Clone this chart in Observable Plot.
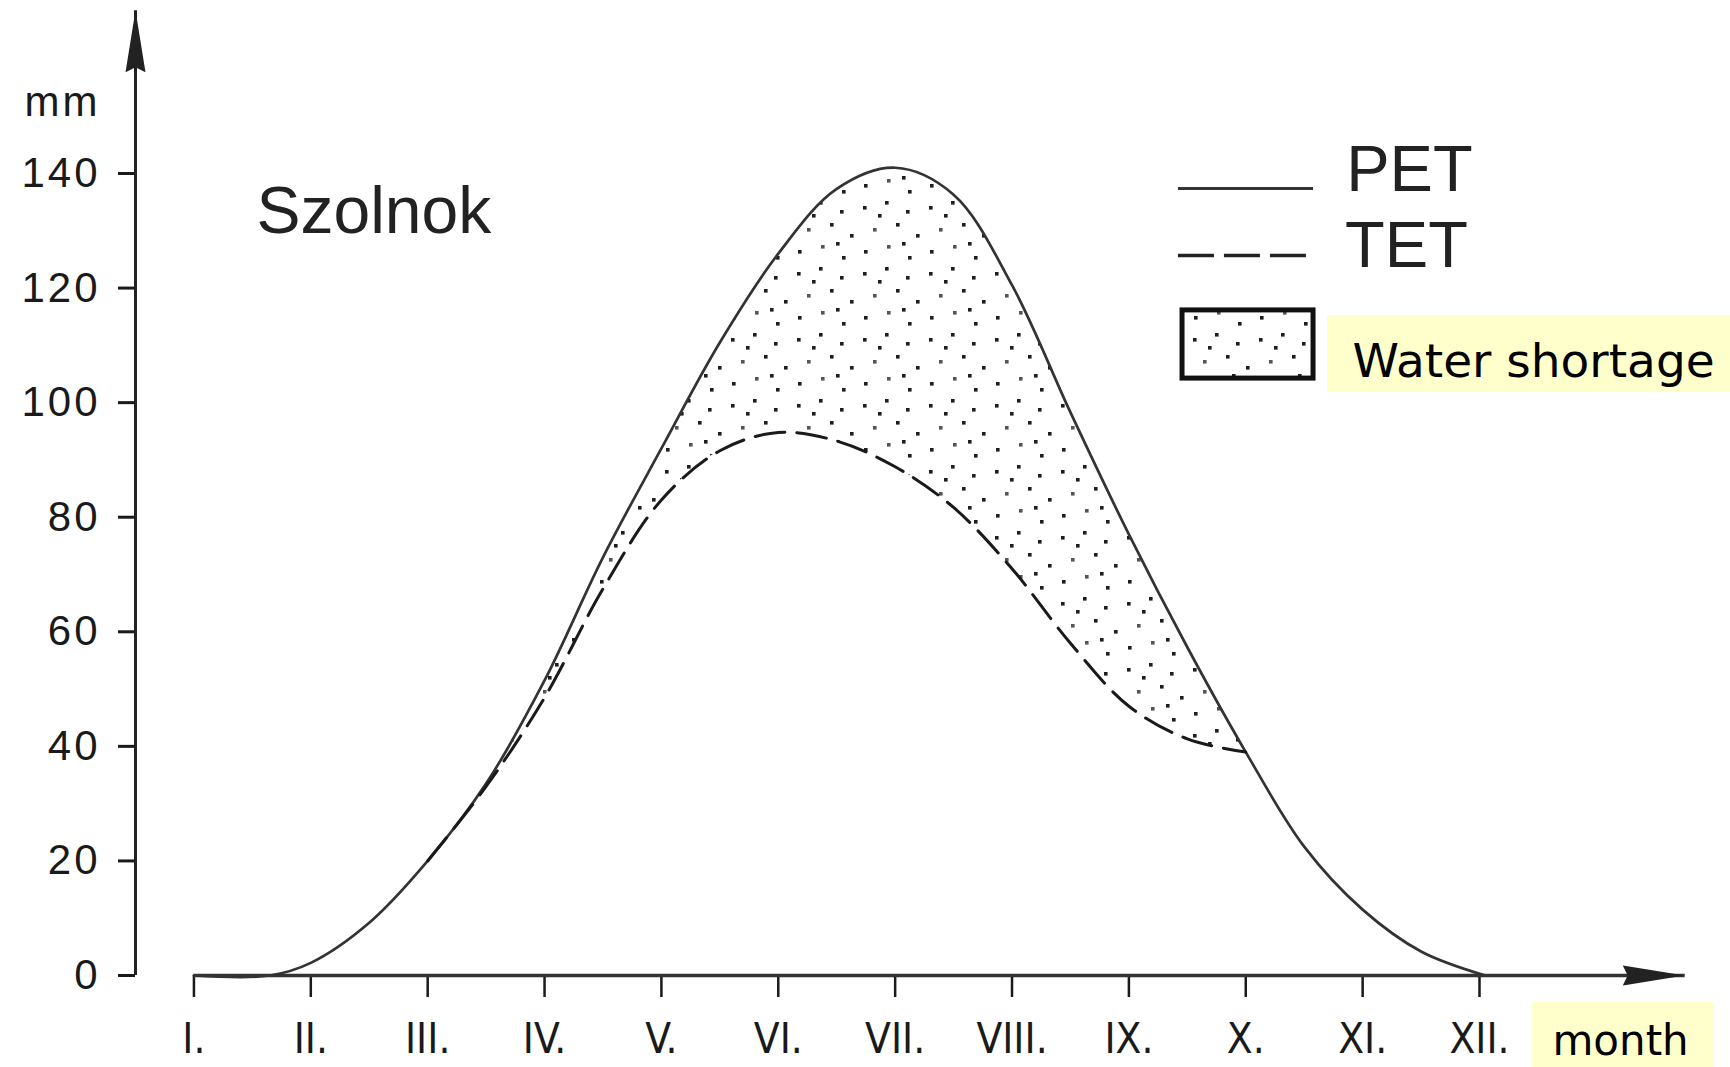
<!DOCTYPE html>
<html>
<head>
<meta charset="utf-8">
<script src="https://cdn.jsdelivr.net/npm/d3@7"></script>
<script src="https://cdn.jsdelivr.net/npm/@observablehq/plot@0.6"></script>
<style>
  html, body { margin: 0; padding: 0; background: #fff; }
  #chart { width: 1730px; height: 1067px; overflow: hidden; }
</style>
</head>
<body>
<div id="chart"></div>
<script>
// ---- data ----
const months = [1, 1.65, 2, 2.5, 3, 3.5, 4, 4.5, 5, 5.5, 6, 6.5, 7, 7.5, 8, 8.5, 9, 9.5, 10, 10.5, 11, 11.5, 12.05];
const pet    = [0, 0, 2.2, 9.2, 20, 33.5, 51.5, 73, 92, 110.5, 126, 137.3, 141, 136.3, 120.5, 98.3, 77, 57.3, 39, 22.5, 11.5, 4.2, 0];
const tet    = [0, 0, 2.2, 9.2, 20, 33, 48.5, 67.5, 83, 91.6, 94.8, 93.3, 88.8, 81.7, 71, 58, 47, 41.3, 39, 22.5, 11.5, 4.2, 0];
const monthTicks  = [1, 2, 3, 4, 5, 6, 7, 8, 9, 10, 11, 12];
const monthLabels = ["I.", "II.", "III.", "IV.", "V.", "VI.", "VII.", "VIII.", "IX.", "X.", "XI.", "XII."];
const yTicks = [0, 20, 40, 60, 80, 100, 120, 140];
const seriesNames = ["PET", "TET"];
const shortageLabel = "Water shortage";
const stationName = "Szolnok";
const yUnit = "mm";
const xUnit = "month";
const shortageStart = 3;   // month where TET leaves PET
const shortageEnd = 10;    // month where TET meets PET again

const rows = months.map((m, i) => ({month: m, pet: pet[i], tet: tet[i]}));
const shortageRows = rows.filter(d => d.month >= shortageStart && d.month <= shortageEnd);

const sansFont = "'Liberation Sans', Arial, Helvetica, sans-serif";
const narrowFont = "'Liberation Sans Narrow', 'Arial Narrow', 'DejaVu Sans Condensed', 'Liberation Sans', sans-serif";
const verdanaLike = "'DejaVu Sans', Verdana, sans-serif";

const plot = Plot.plot({
  width: 1730,
  height: 1067,
  marginLeft: 135,
  marginRight: 251,
  marginTop: 173,
  marginBottom: 92,
  x: {domain: [0.5, 12], axis: null, label: null},
  y: {domain: [0, 140], axis: null, label: null},
  style: {fontFamily: sansFont, background: "#fff", color: "#1a1a1a", overflow: "visible"},
  marks: [
    // water shortage area
    Plot.areaY(shortageRows, {x: "month", y1: "tet", y2: "pet", curve: "catmull-rom", fill: "url(#dots)"}),
    // curves
    Plot.line(rows, {x: "month", y: "pet", curve: "catmull-rom", stroke: "#333", strokeWidth: 2.7}),
    Plot.line(shortageRows, {x: "month", y: "tet", curve: "catmull-rom", stroke: "#1a1a1a", strokeWidth: 3, strokeDasharray: "30,12"}),
    // axes
    Plot.axisY({ticks: yTicks, tickSize: 17, tickPadding: 18, fontSize: 42, strokeWidth: 3, label: null, tickFormat: d => String(d)}),
    Plot.axisX({ticks: monthTicks, tickSize: 22, tickPadding: 26, fontSize: 42, strokeWidth: 2.5, label: null,
      fontFamily: narrowFont, tickFormat: d => monthLabels[monthTicks.indexOf(d)]}),
    Plot.ruleX([0.5], {y1: 0, y2: 168.4, stroke: "#222", strokeWidth: 3, ariaDescription: "y-axis-line"}),
    Plot.ruleY([0], {x1: 1, x2: 13.76, stroke: "#333", strokeWidth: 3.5, ariaDescription: "x-axis-line"}),
    Plot.text([yUnit], {x: 0.2, y: 150.1, text: d => d, textAnchor: "end", lineAnchor: "bottom", fontSize: 42, ariaDescription: "spaced"}),
    // station name
    Plot.text([stationName], {x: 1.535, y: 129.7, text: d => d, textAnchor: "start", lineAnchor: "bottom", fontSize: 66, fill: "#222"}),
    // legend
    Plot.ruleY([137.4], {x1: 9.424, x2: 10.58, stroke: "#333", strokeWidth: 3}),
    Plot.ruleY([125.7], {x1: 9.424, x2: 10.58, stroke: "#222", strokeWidth: 3.5, strokeDasharray: "36,10"}),
    Plot.rect([0], {x1: 9.459, x2: 10.58, y1: 104.2, y2: 116.1, fill: "url(#dots)", stroke: "#111", strokeWidth: 5}),
    Plot.text([seriesNames[0]], {x: 10.86, y: 137.0, text: d => d, textAnchor: "start", lineAnchor: "bottom", fontSize: 65, fill: "#222"}),
    Plot.text([seriesNames[1]], {x: 10.85, y: 123.6, text: d => d, textAnchor: "start", lineAnchor: "bottom", fontSize: 65, fill: "#222"}),
    // highlighted labels
    Plot.rect([0], {x1: 10.699, x2: 14.2, y1: 101.8, y2: 115.2, fill: "#ffffcc"}),
    Plot.text([shortageLabel], {x: 10.913, y: 104.4, text: d => d, textAnchor: "start", lineAnchor: "bottom", fontSize: 47, fontFamily: verdanaLike, fill: "#000"}),
    Plot.rect([0], {x1: 12.453, x2: 14.002, y1: -16.5, y2: -4.71, fill: "#ffffcc"}),
    Plot.text([xUnit], {x: 12.624, y: -13.96, text: d => d, textAnchor: "start", lineAnchor: "bottom", fontSize: 42, fontFamily: verdanaLike, fill: "#000"})
  ]
});

const svg = d3.select(plot);
const defs = svg.insert("defs", ":first-child");
// filled narrow arrowhead
defs.append("marker")
  .attr("id", "ah")
  .attr("markerUnits", "userSpaceOnUse")
  .attr("viewBox", "0 0 64 22")
  .attr("markerWidth", 64)
  .attr("markerHeight", 22)
  .attr("refX", 62)
  .attr("refY", 11)
  .attr("orient", "auto")
  .append("path")
  .attr("d", "M0,1 L62,11 L0,21 L5,11 Z")
  .attr("fill", "#222");
// stipple pattern
const tile = 66;
const pat = defs.append("pattern").attr("id", "dots").attr("patternUnits", "userSpaceOnUse")
  .attr("width", tile).attr("height", tile);
pat.append("rect").attr("width", tile).attr("height", tile).attr("fill", "#fff");
[[5, 8], [27, 3], [48, 12], [15, 30], [38, 25], [58, 36], [6, 52], [29, 47], [50, 58], [20, 16], [44, 44]]
  .forEach(([x, y], i) => pat.append("rect").attr("x", x).attr("y", y)
    .attr("width", 3.6).attr("height", 3.6).attr("fill", i % 4 === 3 ? "#555" : "#1e1e1e"));

svg.selectAll('g[aria-description="y-axis-line"] line, g[aria-description="x-axis-line"] line')
  .attr("marker-end", "url(#ah)");
svg.selectAll('g[aria-label="y-axis tick label"] text, g[aria-description="spaced"] text')
  .style("letter-spacing", "3px");

document.getElementById("chart").appendChild(plot);
</script>
</body>
</html>
